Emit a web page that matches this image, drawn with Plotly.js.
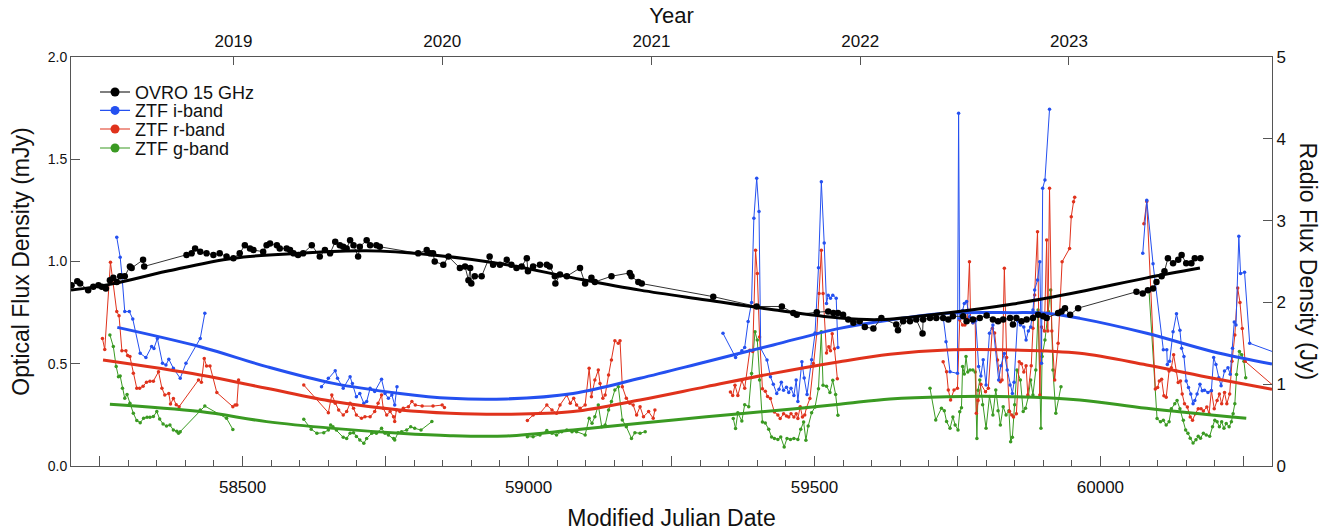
<!DOCTYPE html>
<html><head><meta charset="utf-8">
<script src="https://cdn.plot.ly/plotly-3.0.1.min.js"></script>
<style>html,body{margin:0;padding:0;background:#fff}#chart{width:1341px;height:531px}</style>
</head><body><div id="chart"></div>
<script>
// ---------- OVRO 15 GHz (Jy, right axis) ----------
const ovroMjd = [58201,58211,58216,58230,58239,58248,58254,58261,58268,58274,58280,58286,58294,58303,58306,58326,58328,
58402,58411,58417,58426,58437,58449,58460,58472,58484,58495,58504,58513,58519,58536,58542,58548,58560,58565,58577,58583,58589,58597,58606,58621,58635,58644,58653,58662,58670,58676,58682,58688,58694,58702,58705,58717,58723,58734,58740,
58807,58822,58828,58833,58836,58851,58860,58880,58889,58895,58898,58900,58906,58918,58932,58938,58950,58962,58970,58979,58988,58997,58999,59008,59020,59032,59037,59046,59047,59055,59067,59090,59099,59110,59116,59145,59177,59180,59192,59198,
59323,59399,59443,59463,59469,59504,59524,59533,59541,59550,59559,59568,59579,59588,59603,59617,59643,59646,59655,59667,59678,59689,59690,59702,59713,59725,59734,59742,59760,59766,59777,59789,59801,59812,59821,59830,59842,59847,59853,59862,59871,59882,59891,59900,59906,59926,59932,59938,59947,59961,
60063,60074,60083,60092,60098,60107,60112,60118,60127,60136,60142,60150,60159,60165,60175];
const ovroJy = [2.21,2.26,2.23,2.15,2.19,2.21,2.19,2.17,2.27,2.30,2.25,2.32,2.32,2.44,2.42,2.52,2.44,
2.58,2.60,2.66,2.62,2.60,2.58,2.60,2.56,2.54,2.60,2.70,2.66,2.64,2.62,2.70,2.72,2.70,2.66,2.66,2.64,2.60,2.58,2.60,2.70,2.56,2.64,2.60,2.74,2.70,2.68,2.66,2.76,2.70,2.56,2.68,2.76,2.70,2.70,2.68,
2.60,2.64,2.60,2.60,2.50,2.46,2.56,2.42,2.44,2.27,2.42,2.23,2.32,2.32,2.56,2.46,2.46,2.52,2.46,2.42,2.44,2.54,2.38,2.44,2.46,2.46,2.44,2.32,2.23,2.34,2.32,2.42,2.23,2.30,2.25,2.32,2.36,2.32,2.25,2.23,
2.07,1.95,1.95,1.87,1.85,1.88,1.89,1.87,1.87,1.85,1.79,1.75,1.77,1.70,1.68,1.81,1.73,1.66,1.77,1.77,1.79,1.62,1.79,1.81,1.81,1.81,1.79,1.83,1.83,1.77,1.79,1.81,1.84,1.79,1.77,1.79,1.81,1.73,1.81,1.77,1.79,1.81,1.85,1.83,1.81,1.87,1.89,1.93,1.85,1.93,
2.13,2.11,2.15,2.17,2.25,2.32,2.38,2.54,2.48,2.52,2.58,2.48,2.48,2.54,2.54];
const ovroFitMjd = [58200,58268,58367,58484,58600,58717,58833,58962,59078,59195,59311,59428,59544,59614,59731,59847,59964,60081,60174];
const ovroFitJy  = [2.15,2.22,2.38,2.54,2.60,2.63,2.58,2.46,2.30,2.15,2.03,1.91,1.81,1.79,1.87,1.98,2.13,2.30,2.42];

// ---------- ZTF i-band (mJy) ----------
const iMjd = [58280,58286,58289,58294,58302,58308,58321,58331,58341,58345,58351,58360,58366,58371,58379,58391,58401,58426,58434,null,
58638,58650,58662,58666,58676,58688,58692,58699,58705,58712,58717,58723,58731,58743,58749,58755,58761,58766,58770,null,
59340,59362,59373,59378,59384,59390,59394,59399,59403,59406,59417,59423,59428,59434,59438,59442,59446,59451,59455,59459,59464,59468,59471,59478,59482,59487,59495,59501,59507,59512,59517,59521,59524,59528,59532,59538,59541,null,
59725,59730,59737,59750,59752,59754,59759,59762,59766,59771,59777,59782,59787,59791,59795,59800,59806,59812,59817,59822,59826,59832,59837,59842,59846,59849,59855,59860,59866,59870,59874,59878,59882,59885,59890,59894,59897,59899,59903,59911,null,
60074,60081,60092,60110,60116,60117,60121,60127,60133,60139,60142,60146,60150,60154,60158,60162,60165,60169,60174,60178,60182,60188,60194,60198,60202,60207,60211,60217,60223,60227,60231,60234,60237,60242,60245,60252,60261,60320];
const iFlux = [1.118,1.021,0.934,0.755,0.755,0.719,0.551,0.530,0.584,0.575,0.624,0.502,0.494,0.522,0.478,0.429,0.502,0.624,0.747,null,
0.388,0.429,0.466,0.429,0.380,0.437,0.404,0.339,0.355,0.307,0.315,0.380,0.364,0.424,0.355,0.331,0.347,0.298,0.388,null,
0.649,0.531,0.564,0.580,0.706,0.800,1.211,1.407,1.244,0.575,0.518,0.437,0.400,0.355,0.375,0.410,0.370,0.385,0.360,0.380,0.345,0.420,0.315,0.510,0.430,0.350,0.520,0.650,0.970,1.390,1.090,0.795,0.835,0.820,0.835,0.820,0.580,null,
0.730,0.608,0.461,0.453,1.725,0.722,0.760,0.795,0.804,0.730,0.700,0.710,0.486,0.440,0.520,0.396,0.649,0.690,0.570,0.421,0.490,0.550,0.470,0.396,0.355,0.410,0.710,0.690,0.680,0.616,0.660,0.680,0.763,0.861,0.910,0.999,0.502,1.358,1.399,1.744,null,
1.040,1.299,0.989,0.568,0.568,0.496,0.512,0.656,0.744,0.664,0.576,0.536,0.416,0.384,0.352,0.304,0.320,0.352,0.400,0.368,0.371,0.360,0.368,0.531,0.496,0.432,0.392,0.464,0.480,0.449,0.576,0.704,0.689,1.123,0.941,0.947,0.600,0.540];
const iFitMjd = [58281,58426,58542,58659,58775,58863,58962,59078,59195,59311,59428,59544,59632,59731,59847,59906,59964,60081,60197,60300];
const iFit    = [0.678,0.583,0.486,0.404,0.355,0.331,0.328,0.355,0.429,0.510,0.592,0.673,0.714,0.747,0.750,0.747,0.722,0.649,0.559,0.499];

// ---------- ZTF r-band (mJy) ----------
const rMjd = [58255,58259,58269,58274,58280,58284,58289,58296,58299,58303,58309,58315,58320,58326,58332,58338,58344,58353,58359,58364,58371,58374,58379,58384,58389,58423,58428,58433,58437,58443,58455,58483,58487,58490,58493,null,
58607,58650,58656,58662,58668,58676,58682,58688,58694,58699,58708,58714,58723,58731,58737,58743,58746,58752,58758,58764,58766,58769,58775,58781,58790,58796,58802,58814,58833,58849,58853,null,
58998,59008,59020,59032,59041,59049,59055,59067,59073,59079,59084,59090,59099,59106,59110,59116,59122,59125,59130,59134,59140,59145,59151,59157,59160,59164,59171,59177,59183,59189,59195,59201,59210,59218,59221,null,
59353,59357,59361,59366,59373,59378,59387,59392,59397,59400,59404,59409,59414,59418,59423,59430,59436,59440,59446,59451,59455,59459,59464,59468,59471,59475,59479,59483,59486,59492,59498,59504,59508,59512,59515,59521,59525,59528,59531,59535,59540,null,
59725,59731,59734,59738,59744,59750,59754,59759,59763,59767,59771,59773,59777,59781,59783,59786,59791,59799,59804,59811,59815,59820,59825,59828,59832,59836,59841,59845,59848,59853,59858,59862,59866,59870,59873,59879,59882,59885,59890,59894,59897,59902,59906,59908,59911,59915,59920,59926,59933,59946,59949,59953,59955,null,
60076,60081,60096,60100,60103,60107,60111,60115,60120,60124,60128,60132,60136,60140,60143,60147,60152,60157,60161,60166,60171,60176,60180,60186,60190,60194,60199,60204,60208,60212,60217,60221,60226,60230,60235,60240,60244,60248,60253,60320];
const rFlux = [0.624,0.570,0.996,0.893,0.755,0.735,0.564,0.564,0.540,0.535,0.453,0.380,0.380,0.390,0.410,0.415,0.415,0.461,0.380,0.347,0.355,0.303,0.330,0.300,0.290,0.421,0.410,0.526,0.489,0.489,0.359,0.290,0.298,0.298,0.421,null,
0.396,0.261,0.347,0.307,0.274,0.249,0.266,0.307,0.282,0.249,0.233,0.241,0.241,0.266,0.307,0.347,0.282,0.249,0.266,0.241,0.217,0.274,0.266,0.282,0.290,0.315,0.298,0.293,0.293,0.298,0.286,null,
0.222,0.249,0.258,0.298,0.274,0.258,0.298,0.347,0.307,0.331,0.298,0.282,0.298,0.478,0.339,0.420,0.469,0.404,0.331,0.347,0.445,0.518,0.613,0.600,0.613,0.388,0.331,0.307,0.298,0.249,0.290,0.241,0.266,0.233,0.274,null,
0.362,0.345,0.395,0.345,0.419,0.380,0.566,0.560,1.055,0.941,0.631,0.378,0.365,0.340,0.330,0.264,0.250,0.232,0.255,0.245,0.240,0.255,0.240,0.255,0.232,0.290,0.240,0.250,0.285,0.330,0.501,0.647,0.843,1.055,0.843,0.553,0.583,0.563,0.647,0.573,0.427,null,
0.510,0.461,0.372,0.323,0.372,0.380,0.714,0.690,0.690,0.720,0.999,0.715,0.700,0.720,0.258,0.320,0.400,0.363,0.380,0.673,0.650,0.518,0.412,0.420,0.967,0.530,0.266,0.249,0.240,0.255,0.510,0.500,0.460,0.490,0.347,0.490,0.673,0.836,1.146,0.347,0.680,0.660,1.105,0.660,1.358,0.660,0.421,0.600,0.999,1.064,1.219,1.292,1.314,null,
1.184,1.293,0.376,0.384,0.416,0.424,0.344,0.336,0.464,0.480,0.544,0.464,0.408,0.416,0.352,0.304,0.288,0.240,0.224,0.256,0.280,0.280,0.269,0.288,0.256,0.368,0.280,0.320,0.352,0.304,0.360,0.304,0.352,0.512,0.640,0.870,0.800,0.672,0.512,0.350];
const rFitMjd = [58256,58426,58542,58659,58775,58863,58962,59078,59195,59311,59428,59544,59632,59731,59847,59964,60081,60197,60300];
const rFit    = [0.518,0.445,0.380,0.315,0.274,0.258,0.253,0.266,0.323,0.388,0.453,0.510,0.546,0.567,0.567,0.551,0.494,0.429,0.375];

// ---------- ZTF g-band (mJy) ----------
const gMjd = [58268,58274,58279,58283,58286,58290,58294,58298,58303,58309,58315,58321,58327,58333,58338,58344,58350,58355,58361,58367,58373,58379,58385,58388,58391,58426,58434,58472,58483,null,
58607,58620,58630,58642,58650,58654,58658,58664,58676,58682,58688,58694,58699,58705,58712,58717,58726,58734,58743,58749,58755,58764,58766,58772,58778,58787,58794,58801,58812,58831,null,
58998,59008,59020,59032,59041,59049,59058,59067,59076,59084,59099,59106,59111,59116,59122,59128,59134,59140,59145,59151,59157,59164,59171,59180,59186,59195,59204,null,
59358,59362,59366,59373,59378,59385,59390,59396,59400,59404,59409,59414,59420,59425,59430,59436,59441,59447,59452,59458,59464,59471,59476,59481,59485,59489,59495,59501,59507,59512,59515,59521,59527,59532,59537,59541,null,
59702,59712,59722,59727,59731,59737,59742,59746,59751,59754,59757,59759,59762,59765,59768,59772,59777,59781,59784,59786,59789,59794,59800,59806,59812,59817,59821,59825,59830,59835,59840,59843,59846,59850,59854,59860,59865,59869,59874,59878,59882,59887,59891,59896,59898,59903,59909,59913,59917,59922,59931,null,
60085,60099,60105,60110,60115,60120,60124,60130,60134,60139,60145,60149,60153,60157,60162,60167,60171,60175,60180,60185,60191,60196,60200,60204,60208,60212,60216,60220,60225,60229,60232,60235,60238,60243,60247,60251,60254];
const gFlux = [0.641,0.584,0.486,0.437,0.440,0.380,0.331,0.350,0.307,0.258,0.222,0.212,0.233,0.238,0.238,0.242,0.266,0.230,0.205,0.195,0.200,0.176,0.170,0.160,0.168,0.274,0.293,0.233,0.179,null,
0.228,0.180,0.160,0.163,0.176,0.200,0.192,0.176,0.140,0.135,0.160,0.163,0.144,0.127,0.111,0.135,0.160,0.160,0.184,0.160,0.152,0.135,0.127,0.163,0.168,0.176,0.192,0.184,0.176,0.217,null,
0.143,0.143,0.152,0.173,0.160,0.152,0.168,0.176,0.168,0.168,0.152,0.233,0.209,0.241,0.298,0.192,0.200,0.274,0.315,0.372,0.388,0.225,0.192,0.135,0.163,0.160,0.168,null,
0.232,0.183,0.260,0.220,0.300,0.290,0.452,0.656,0.616,0.420,0.215,0.210,0.180,0.142,0.135,0.130,0.142,0.093,0.135,0.130,0.135,0.130,0.180,0.215,0.126,0.195,0.260,0.289,0.378,0.656,0.395,0.390,0.360,0.419,0.350,0.248,null,
0.380,0.225,0.282,0.270,0.217,0.184,0.240,0.200,0.176,0.265,0.285,0.486,0.450,0.535,0.460,0.470,0.470,0.460,0.135,0.370,0.420,0.300,0.184,0.340,0.250,0.372,0.270,0.200,0.290,0.250,0.270,0.119,0.140,0.300,0.469,0.421,0.266,0.282,0.339,0.421,0.347,0.469,0.763,0.184,0.535,0.616,0.755,0.861,0.469,0.258,0.388,null,
0.856,0.232,0.216,0.224,0.200,0.216,0.280,0.304,0.320,0.280,0.224,0.176,0.160,0.136,0.112,0.128,0.145,0.136,0.160,0.152,0.145,0.192,0.224,0.216,0.192,0.216,0.184,0.208,0.192,0.216,0.256,0.304,0.448,0.560,0.544,0.512,0.432];
const gFitMjd = [58268,58426,58542,58659,58775,58863,58962,59078,59195,59311,59428,59544,59632,59731,59847,59964,60081,60255];
const gFit    = [0.302,0.266,0.217,0.184,0.160,0.148,0.147,0.176,0.209,0.241,0.270,0.302,0.328,0.339,0.339,0.323,0.282,0.233];

// ---------- axis tick labels ----------
const mjdTickVals = [58250,58500,58750,59000,59250,59500,59750,60000,60250];
const mjdTickText = ['','58500','','59000','','59500','','60000',''];
const yearTickMjd = [58484,58849,59215,59580,59945];
const yearTickText = ['2019','2020','2021','2022','2023'];
const legendNames = ['OVRO 15 GHz','ZTF i-band','ZTF r-band','ZTF g-band'];

const BLUE='#2450f0', RED='#e0321c', GREEN='#3a9a22', BLACK='#000000';
const FONT='Liberation Sans, Arial, Helvetica, sans-serif';
const TXT='#111';

function dataTrace(x,y,color,ms,yaxis,xaxis){
  return {type:'scatter',mode:'lines+markers',x:x,y:y,xaxis:xaxis||'x',yaxis:yaxis||'y',
    line:{color:color,width:1},marker:{color:color,size:ms},showlegend:false,connectgaps:false,hoverinfo:'skip'};
}
function fitTrace(x,y,color,yaxis,xaxis){
  return {type:'scatter',mode:'lines',x:x,y:y,xaxis:xaxis||'x',yaxis:yaxis||'y',
    line:{color:color,width:3,shape:'spline',smoothing:1},showlegend:false,hoverinfo:'skip'};
}
function legendTrace(name,color,lg){
  return {type:'scatter',mode:'lines+markers',x:[null],y:[null],name:name,legend:lg,
    line:{color:color,width:1.2},marker:{color:color,size:9},showlegend:true};
}

const ovroData = dataTrace(ovroMjd,ovroJy,'#333',6.5,'y2','x2');
ovroData.marker.color = BLACK;

const traces = [
  dataTrace(gMjd,gFlux,GREEN,3.5),
  dataTrace(rMjd,rFlux,RED,3.5),
  dataTrace(iMjd,iFlux,BLUE,3.5),
  ovroData,
  fitTrace(gFitMjd,gFit,GREEN),
  fitTrace(rFitMjd,rFit,RED),
  fitTrace(iFitMjd,iFit,BLUE),
  fitTrace(ovroFitMjd,ovroFitJy,BLACK,'y2','x2'),
  legendTrace(legendNames[0],BLACK,'legend'),
  legendTrace(legendNames[1],BLUE,'legend2'),
  legendTrace(legendNames[2],RED,'legend3'),
  legendTrace(legendNames[3],GREEN,'legend4')
];

function lg(y){
  return {x:0.02,y:y,xanchor:'left',yanchor:'middle',bgcolor:'rgba(0,0,0,0)',
    font:{size:18,family:FONT,color:TXT},itemclick:false,itemdoubleclick:false};
}

const axisCommon = {showgrid:false,zeroline:false,showline:true,linecolor:'#555',linewidth:1,
  ticks:'inside',tickcolor:'#555',tickwidth:1};

const layout = {
  width:1341,height:531,
  margin:{l:71,r:69,t:57,b:65},
  paper_bgcolor:'#fff',plot_bgcolor:'#fff',
  font:{family:FONT,color:TXT},
  showlegend:true,
  legend:lg(0.9137), legend2:lg(0.8687), legend3:lg(0.8232), legend4:lg(0.7768),
  xaxis:Object.assign({},axisCommon,{range:[58200,60300],tickmode:'array',tickvals:mjdTickVals,ticktext:mjdTickText,ticklen:10,
    minor:{dtick:50,tick0:58000,ticks:'inside',ticklen:6,tickcolor:'#555',tickwidth:1,showgrid:false},
    tickfont:{size:17,family:FONT,color:TXT},ticklabelstandoff:6,
    title:{text:'Modified Julian Date',font:{size:23,family:FONT,color:TXT},standoff:14}}),
  xaxis2:Object.assign({},axisCommon,{overlaying:'x',side:'top',anchor:'y',range:[58200,60300],
    tickmode:'array',tickvals:yearTickMjd,ticktext:yearTickText,ticklen:8,
    tickfont:{size:17,family:FONT,color:TXT},ticklabelstandoff:2,
    title:{text:'Year',font:{size:22,family:FONT,color:TXT},standoff:2}}),
  yaxis:Object.assign({},axisCommon,{range:[0,2],dtick:0.5,tick0:0,tickformat:'.1f',ticklen:9,
    tickfont:{size:14,family:FONT,color:TXT},
    title:{text:'Optical Flux Density (mJy)',font:{size:23,family:FONT,color:TXT},standoff:11}}),
  yaxis2:Object.assign({},axisCommon,{overlaying:'y',side:'right',anchor:'x',range:[0,5],dtick:1,tick0:0,ticklen:9,
    tickfont:{size:17,family:FONT,color:TXT}}),
  annotations:[{text:'Radio Flux Density (Jy)',textangle:90,xref:'paper',yref:'paper',x:1.03,y:0.5,
    xanchor:'center',yanchor:'middle',showarrow:false,font:{size:23,family:FONT,color:TXT}}]
};

Plotly.newPlot('chart',traces,layout,{displayModeBar:false,staticPlot:true});
</script></body></html>
